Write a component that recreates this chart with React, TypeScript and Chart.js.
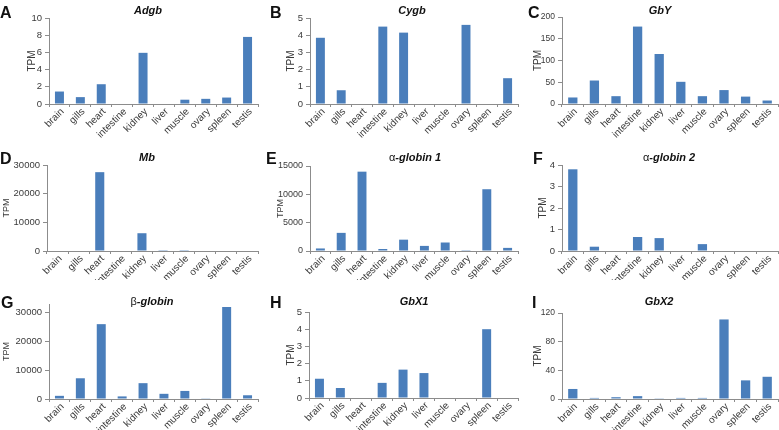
import { useEffect, useRef } from 'react';
import { Chart, registerables } from 'chart.js';

Chart.register(...registerables);

// tissues on the x axis, same for every panel
const tissues = ['brain', 'gills', 'heart', 'intestine', 'kidney', 'liver', 'muscle', 'ovary', 'spleen', 'testis'];

// TPM values
const adgb = [1.45, 0.8, 2.3, 0, 5.95, 0, 0.5, 0.6, 0.75, 7.8];
const cygb = [3.85, 0.8, 0, 4.5, 4.15, 0, 0, 4.6, 0, 1.5];
const gbY = [15, 54, 18, 178, 115, 51, 18, 32, 17, 8];
const mb = [0, 0, 27500, 0, 6200, 50, 300, 0, 0, 0];
const alphaGlobin1 = [450, 3200, 14000, 350, 2000, 900, 1500, 30, 10900, 550];
const alphaGlobin2 = [3.8, 0.2, 0, 0.65, 0.6, 0, 0.32, 0, 0, 0];
const betaGlobin = [1100, 7200, 26000, 900, 5500, 1800, 2800, 100, 32000, 1300];
const gbX1 = [1.12, 0.58, 0, 0.88, 1.65, 1.45, 0, 0, 4.0, 0];
const gbX2 = [14, 1.5, 2.5, 4, 1, 1.5, 1.5, 111, 26, 31];

// y tick labels per panel
const adgbTicks = [0, 2, 4, 6, 8, 10];
const cygbTicks = [0, 1, 2, 3, 4, 5];
const gbYTicks = [0, 50, 100, 150, 200];
const mbTicks = [0, 10000, 20000, 30000];
const alpha1Ticks = [0, 5000, 10000, 15000];
const alpha2Ticks = [0, 1, 2, 3, 4];
const betaTicks = [0, 10000, 20000, 30000];
const gbX1Ticks = [0, 1, 2, 3, 4, 5];
const gbX2Ticks = [0, 40, 80, 120];

const FONT = '"Liberation Sans", Arial, sans-serif';
const BAR = '#4a7ebb';
const AXIS = '#8c8c8c';
const TEXT = '#3a3a3a';

interface PanelSpec {
  letter: string;
  prefix?: string;
  name: string;
  values: number[];
  ticks: number[];
  max: number;
  // layout (px) and font sizes
  x: number;
  y: number;
  h: number;
  axisLeft: number;
  plotTop: number;
  plotBottom: number;
  tpmX: number;
  letterX: number;
  titleX: number;
  tickSize: number;
  tpmSize: number;
}

const W = 259;

const panels: PanelSpec[] = [
  { letter: 'A', name: 'Adgb', values: adgb, ticks: adgbTicks, max: 10, x: 0, y: 0, h: 140, axisLeft: 49, plotTop: 18, plotBottom: 104, tpmX: 32, letterX: 0, titleX: 148, tickSize: 9.5, tpmSize: 10 },
  { letter: 'B', name: 'Cygb', values: cygb, ticks: cygbTicks, max: 5, x: 260, y: 0, h: 140, axisLeft: 50, plotTop: 18, plotBottom: 104, tpmX: 31, letterX: 270, titleX: 412, tickSize: 9.5, tpmSize: 10 },
  { letter: 'C', name: 'GbY', values: gbY, ticks: gbYTicks, max: 200, x: 520, y: 0, h: 140, axisLeft: 42, plotTop: 17, plotBottom: 104, tpmX: 18, letterX: 528, titleX: 660, tickSize: 8.5, tpmSize: 10 },
  { letter: 'D', name: 'Mb', values: mb, ticks: mbTicks, max: 30000, x: 0, y: 140, h: 140, axisLeft: 47, plotTop: 25, plotBottom: 111, tpmX: 7, letterX: 0, titleX: 147, tickSize: 9.5, tpmSize: 9 },
  { letter: 'E', prefix: 'α', name: '-globin 1', values: alphaGlobin1, ticks: alpha1Ticks, max: 15000, x: 260, y: 140, h: 140, axisLeft: 50, plotTop: 26, plotBottom: 111, tpmX: 21, letterX: 266, titleX: 415, tickSize: 9, tpmSize: 9 },
  { letter: 'F', prefix: 'α', name: '-globin 2', values: alphaGlobin2, ticks: alpha2Ticks, max: 4, x: 520, y: 140, h: 140, axisLeft: 42, plotTop: 25, plotBottom: 111, tpmX: 23, letterX: 533, titleX: 669, tickSize: 9.5, tpmSize: 10 },
  { letter: 'G', prefix: 'β', name: '-globin', values: betaGlobin, ticks: betaTicks, max: 33000, x: 0, y: 285, h: 145, axisLeft: 49, plotTop: 19, plotBottom: 114, tpmX: 7, letterX: 1, titleX: 152, tickSize: 9.5, tpmSize: 9 },
  { letter: 'H', name: 'GbX1', values: gbX1, ticks: gbX1Ticks, max: 5, x: 260, y: 285, h: 145, axisLeft: 49, plotTop: 27, plotBottom: 113, tpmX: 31, letterX: 270, titleX: 414, tickSize: 9.5, tpmSize: 10 },
  { letter: 'I', name: 'GbX2', values: gbX2, ticks: gbX2Ticks, max: 120, x: 520, y: 285, h: 145, axisLeft: 42, plotTop: 28, plotBottom: 114, tpmX: 18, letterX: 532, titleX: 659, tickSize: 8.5, tpmSize: 10 },
];

// category labels at 45°, right end just under each category's tick
const slantedLabels = {
  id: 'slantedLabels',
  afterDraw(chart: any) {
    const { ctx, chartArea } = chart;
    const xScale = chart.scales.x;
    ctx.save();
    ctx.fillStyle = TEXT;
    ctx.font = `10px ${FONT}`;
    ctx.textAlign = 'right';
    ctx.textBaseline = 'middle';
    (chart.data.labels as string[]).forEach((label, i) => {
      const px = xScale.getPixelForValue(i);
      ctx.save();
      ctx.translate(px + 3, chartArea.bottom + 6);
      ctx.rotate(-Math.PI / 4);
      ctx.fillText(label, 0, 0);
      ctx.restore();
    });
    ctx.restore();
  },
};

function Panel({ p }: { p: PanelSpec }) {
  const canvasRef = useRef<HTMLCanvasElement>(null);

  useEffect(() => {
    if (!canvasRef.current) return;
    const chart = new Chart(canvasRef.current, {
      type: 'bar',
      data: {
        labels: tissues,
        datasets: [{
          data: p.values,
          backgroundColor: BAR,
          borderWidth: 0,
          barPercentage: 0.43,
          categoryPercentage: 1,
        }],
      },
      options: {
        responsive: false,
        animation: false,
        layout: { padding: { top: p.plotTop, right: 1, left: 0, bottom: 0 } },
        plugins: { legend: { display: false }, tooltip: { enabled: false } },
        scales: {
          x: {
            afterFit: (scale: any) => { scale.height = p.h - p.plotBottom; },
            border: { display: true, color: AXIS, width: 1 },
            grid: { display: true, drawOnChartArea: false, drawTicks: true, tickLength: 3, color: AXIS, offset: true },
            ticks: { display: false, autoSkip: false },
          },
          y: {
            min: 0,
            max: p.max,
            afterFit: (scale: any) => { scale.width = p.axisLeft; },
            afterBuildTicks: (scale: any) => { scale.ticks = p.ticks.map((v) => ({ value: v })); },
            border: { display: true, color: AXIS, width: 1 },
            grid: { display: true, drawOnChartArea: false, drawTicks: true, tickLength: 4, color: AXIS },
            ticks: {
              padding: 3,
              color: TEXT,
              font: { family: FONT, size: p.tickSize },
              callback: (v: any) => String(v),
            },
            title: {
              display: true,
              text: 'TPM',
              color: TEXT,
              font: { family: FONT, size: p.tpmSize },
              padding: { top: Math.max(0, p.tpmX - p.tpmSize * 0.6), bottom: 0 },
            },
          },
        },
      },
      plugins: [slantedLabels],
    });
    return () => chart.destroy();
  }, [p]);

  return (
    <canvas
      ref={canvasRef}
      width={W}
      height={p.h}
      style={{ position: 'absolute', left: p.x, top: p.y, width: W, height: p.h }}
    />
  );
}

export default function App() {
  return (
    <div style={{ position: 'absolute', left: 0, top: 0, width: 779, height: 430, background: '#fff', fontFamily: FONT, color: '#111' }}>
      {panels.map((p) => (
        <Panel key={p.letter} p={p} />
      ))}
      {panels.map((p) => (
        <div
          key={'l' + p.letter}
          style={{ position: 'absolute', left: p.letterX, top: p.y + (p.y === 0 ? 5 : p.y === 140 ? 11 : 10), fontSize: 16, lineHeight: '16px', fontWeight: 'bold' }}
        >
          {p.letter}
        </div>
      ))}
      {panels.map((p) => (
        <div
          key={'t' + p.letter}
          style={{ position: 'absolute', left: p.titleX, top: p.y + (p.y === 0 ? 5 : p.y === 140 ? 12 : 11), transform: 'translateX(-50%)', fontSize: 11, lineHeight: '11px', whiteSpace: 'nowrap' }}
        >
          {p.prefix && <span>{p.prefix}</span>}
          <span style={{ fontWeight: 'bold', fontStyle: 'italic' }}>{p.name}</span>
        </div>
      ))}
    </div>
  );
}
